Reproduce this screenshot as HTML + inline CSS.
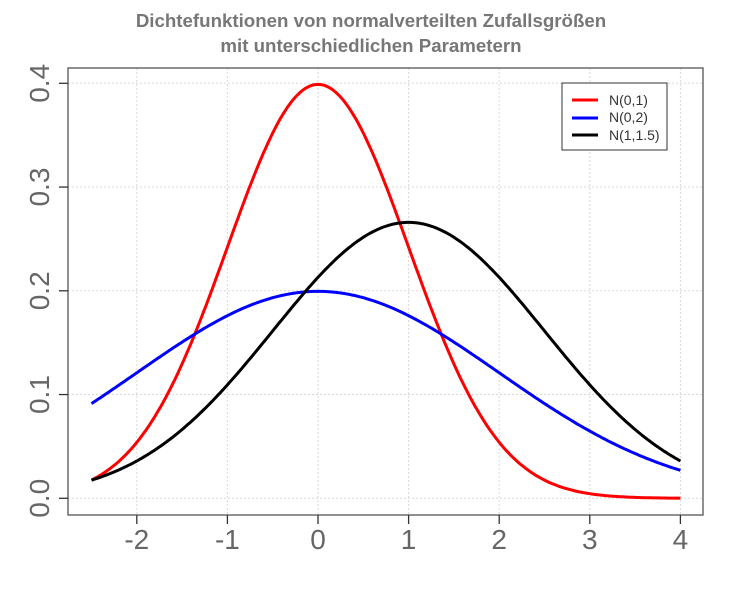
<!DOCTYPE html>
<html><head><meta charset="utf-8"><style>
body{margin:0;background:#fff}
svg{display:block;font-family:"Liberation Sans",sans-serif}
</style></head><body>
<svg id="s" width="737" height="600" viewBox="0 0 737 600">
<text x="371" y="27" text-anchor="middle" font-size="18.7" font-weight="bold" fill="#777">Dichtefunktionen von normalverteilten Zufallsgrößen</text>
<text x="371" y="52" text-anchor="middle" font-size="18.7" font-weight="bold" fill="#777">mit unterschiedlichen Parametern</text>
<g id="grid" stroke="#d8d8d8" stroke-width="1" stroke-dasharray="2,2"></g>
<g id="curves" fill="none" stroke-width="3"></g>
<rect x="68" y="68" width="635" height="447" fill="none" stroke="#555" stroke-width="1.3"/>
<g id="ticks" stroke="#333" stroke-width="1.3"></g>
<g id="labels" fill="#666" font-size="28"></g>
<rect x="562" y="83" width="105" height="67" fill="#fff" stroke="#333" stroke-width="1"/>
<line x1="572" y1="100" x2="598" y2="100" stroke="red" stroke-width="3"/>
<line x1="572" y1="118" x2="598" y2="118" stroke="blue" stroke-width="3"/>
<line x1="572" y1="135" x2="598" y2="135" stroke="#000" stroke-width="3"/>
<text x="609" y="105" font-size="14" fill="#333">N(0,1)</text>
<text x="609" y="122" font-size="14" fill="#333">N(0,2)</text>
<text x="609" y="140" font-size="14" fill="#333">N(1,1.5)</text>
</svg>
<script>
var NS="http://www.w3.org/2000/svg";
function X(v){return 318+v*90.6}
function Y(v){return 498.3-v*1037.5}
function el(p,t,a,txt){var e=document.createElementNS(NS,t);for(var k in a)e.setAttribute(k,a[k]);if(txt!=null)e.textContent=txt;document.getElementById(p).appendChild(e);return e}
for(var i=-2;i<=4;i++){el("grid","line",{x1:X(i),x2:X(i),y1:68,y2:515});el("ticks","line",{x1:X(i),x2:X(i),y1:515,y2:524});el("labels","text",{x:X(i),y:549,"text-anchor":"middle"},i==-2?"-2":i==-1?"-1":String(i))}
for(var j=0;j<=4;j++){var y=Y(j/10);el("grid","line",{x1:68,x2:703,y1:y,y2:y});el("ticks","line",{x1:59,x2:68,y1:y,y2:y});el("labels","text",{x:0,y:0,"text-anchor":"middle",transform:"translate(49,"+y+") rotate(-90)"},"0."+j)}
function pdf(x,m,s){return Math.exp(-(x-m)*(x-m)/(2*s*s))/(s*Math.sqrt(2*Math.PI))}
[[0,1,"red"],[0,2,"blue"],[1,1.5,"#000"]].forEach(function(c){var d="";for(var x=-2.5;x<=4.0001;x+=0.02){d+=(d?"L":"M")+X(x).toFixed(1)+","+Y(pdf(x,c[0],c[1])).toFixed(1)}el("curves","path",{d:d,stroke:c[2]})});
</script>
</body></html>
